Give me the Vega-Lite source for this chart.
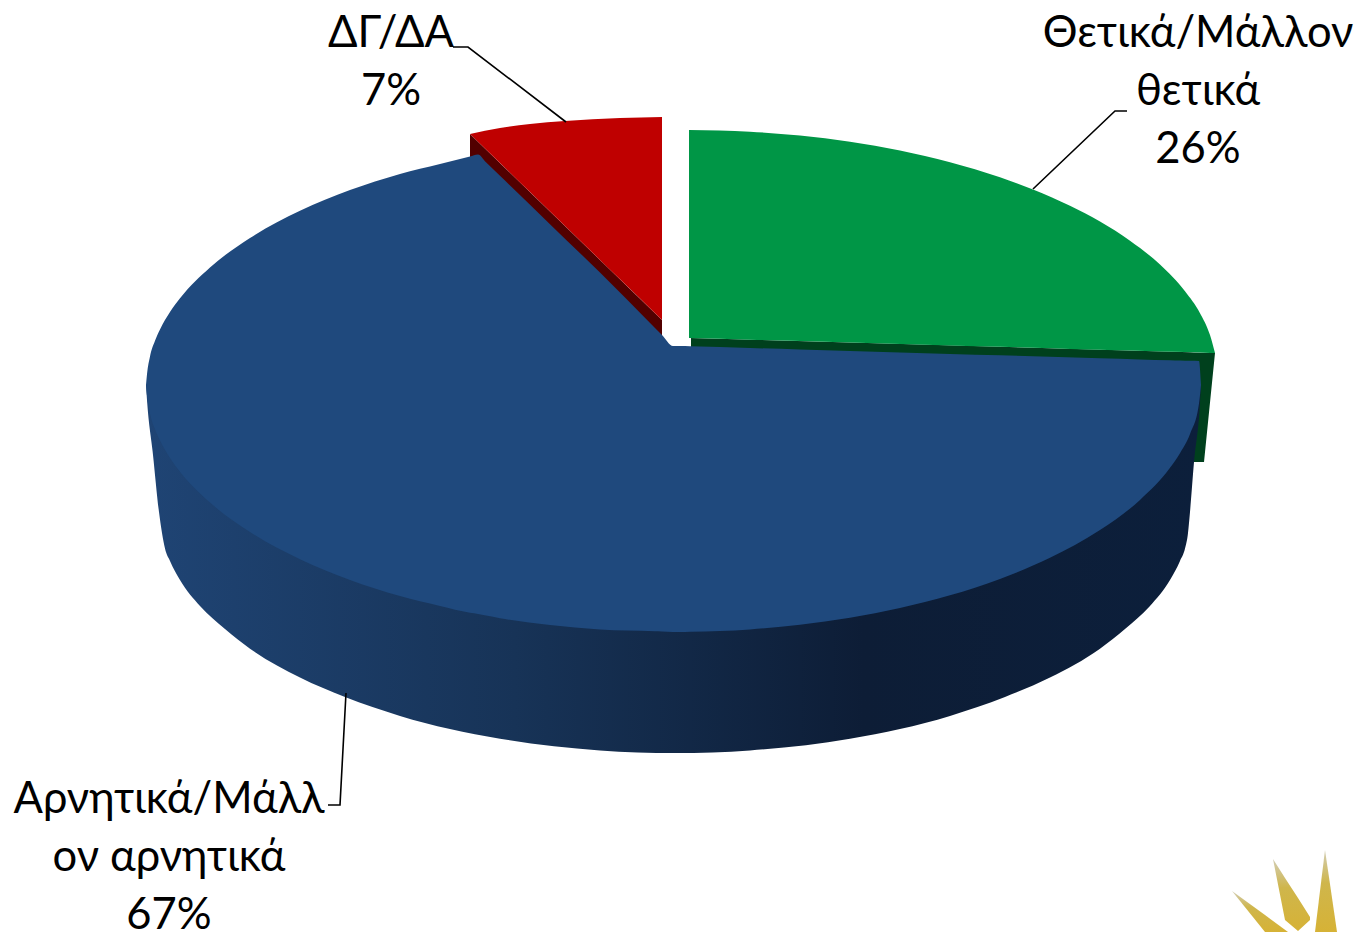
{
"$schema":"https://vega.github.io/schema/vega-lite/v6.json",
"width":1360,"height":932,"padding":0,
"autosize":{"type":"none"},
"background":"white",
"config":{"view":{"stroke":null}},
"datasets":{
"greenSide":[{"x":691,"y":338,"y2":348},{"x":1190,"y":352.3,"y2":400},{"x":1193.9,"y":352.4,"y2":400},{"x":1194,"y":352.4,"y2":462},{"x":1204,"y":352.7,"y2":462},{"x":1215,"y":353,"y2":353}],
"blueSide":[{"x":146,"y":385,"y2":385},{"x":147,"y":385,"y2":400},{"x":153,"y":385,"y2":455},{"x":159,"y":385,"y2":512},{"x":162,"y":385,"y2":533},{"x":165,"y":385,"y2":548.6},{"x":170,"y":385,"y2":561},{"x":180,"y":385,"y2":580},{"x":200,"y":385,"y2":606},{"x":225,"y":385,"y2":629},{"x":250,"y":385,"y2":648.7},{"x":300,"y":385,"y2":677.5},{"x":345,"y":385,"y2":697},{"x":400,"y":385,"y2":715.9},{"x":500,"y":385,"y2":738.7},{"x":600,"y":385,"y2":750.4},{"x":675,"y":385,"y2":753},{"x":750,"y":385,"y2":750.4},{"x":850,"y":385,"y2":738.7},{"x":950,"y":385,"y2":715.9},{"x":1005,"y":385,"y2":697},{"x":1050,"y":385,"y2":677.5},{"x":1100,"y":385,"y2":648.7},{"x":1125,"y":385,"y2":629},{"x":1150,"y":385,"y2":606},{"x":1170,"y":385,"y2":580},{"x":1180,"y":385,"y2":561},{"x":1185,"y":385,"y2":548.6},{"x":1188,"y":385,"y2":533},{"x":1190,"y":385,"y2":512},{"x":1194,"y":385,"y2":462},{"x":1200,"y":385,"y2":403},{"x":1201,"y":385,"y2":385}],
"greenTop":[{"x":689,"y":130,"y2":338},{"x":750,"y":131.7,"y2":339.7},{"x":800,"y":135.6,"y2":341.1},{"x":850,"y":141.8,"y2":342.6},{"x":900,"y":150.6,"y2":344},{"x":950,"y":162.3,"y2":345.4},{"x":1000,"y":177.3,"y2":346.8},{"x":1033,"y":189.5,"y2":347.8},{"x":1070,"y":205.8,"y2":348.9},{"x":1100,"y":221.6,"y2":349.7},{"x":1130,"y":240.7,"y2":350.6},{"x":1160,"y":264.6,"y2":351.4},{"x":1185,"y":291.2,"y2":352.1},{"x":1200,"y":313.2,"y2":352.6},{"x":1210,"y":335,"y2":352.9},{"x":1215,"y":353,"y2":353}],
"redSide":[{"x":470,"y":134,"y2":157},{"x":662,"y":320,"y2":345}],
"redTop":[{"x":470,"y":134,"y2":134},{"x":500,"y":128,"y2":163},{"x":530,"y":124,"y2":192},{"x":565,"y":121,"y2":226},{"x":620,"y":118,"y2":279.3},{"x":662,"y":117,"y2":320}],
"blueTop":[{"x":146,"y":385,"y2":385},{"x":147,"y":374.3,"y2":395.7},{"x":150,"y":356.6,"y2":413.4},{"x":155,"y":340.8,"y2":429.2},{"x":160,"y":329.4,"y2":440.6},{"x":170,"y":312.1,"y2":457.9},{"x":180,"y":298.3,"y2":471.7},{"x":210,"y":267.5,"y2":502.5},{"x":250,"y":238,"y2":532},{"x":300,"y":210.7,"y2":559.3},{"x":350,"y":190,"y2":580},{"x":400,"y":173.9,"y2":596.1},{"x":440,"y":164,"y2":606},{"x":470,"y":156.5,"y2":612.8},{"x":478,"y":154.5,"y2":614},{"x":486,"y":162.3,"y2":615.5},{"x":500,"y":175.8,"y2":618.2},{"x":550,"y":224.2,"y2":625.1},{"x":600,"y":272.6,"y2":629.6},{"x":655,"y":328,"y2":631.3},{"x":662,"y":335,"y2":631.5},{"x":673,"y":346,"y2":632},{"x":680,"y":346.1,"y2":632},{"x":690,"y":346.3,"y2":631.8},{"x":750,"y":348,"y2":629.4},{"x":800,"y":349.5,"y2":624.8},{"x":850,"y":351,"y2":617.7},{"x":900,"y":352.4,"y2":608},{"x":950,"y":353.9,"y2":595.3},{"x":1000,"y":355.3,"y2":578.9},{"x":1050,"y":356.8,"y2":557.8},{"x":1100,"y":358.2,"y2":530.1},{"x":1140,"y":359.4,"y2":499.9},{"x":1170,"y":360.2,"y2":467.8},{"x":1180,"y":360.5,"y2":453.2},{"x":1190,"y":360.8,"y2":434},{"x":1199,"y":361,"y2":403.6},{"x":1201,"y":385,"y2":385}],
"spikes":[
{"spike":"a","x":1315,"y":932,"y2":932},{"spike":"a","x":1325,"y":850,"y2":932},{"spike":"a","x":1337,"y":932,"y2":932},
{"spike":"b","x":1273,"y":859,"y2":859},{"spike":"b","x":1285,"y":878,"y2":920},{"spike":"b","x":1298,"y":898,"y2":931},{"spike":"b","x":1310,"y":917,"y2":920},
{"spike":"c","x":1232,"y":891,"y2":891},{"spike":"c","x":1265,"y":915,"y2":932},{"spike":"c","x":1288,"y":932,"y2":932}],
"leaders":[
{"slice":"ΔΓ/ΔΑ","i":1,"x":453,"y":47},{"slice":"ΔΓ/ΔΑ","i":2,"x":468,"y":47},{"slice":"ΔΓ/ΔΑ","i":3,"x":566,"y":122},
{"slice":"Θετικά/Μάλλον θετικά","i":1,"x":1127,"y":111},{"slice":"Θετικά/Μάλλον θετικά","i":2,"x":1115,"y":111},{"slice":"Θετικά/Μάλλον θετικά","i":3,"x":1033,"y":189},
{"slice":"Αρνητικά/Μάλλον αρνητικά","i":1,"x":328,"y":805},{"slice":"Αρνητικά/Μάλλον αρνητικά","i":2,"x":340,"y":805},{"slice":"Αρνητικά/Μάλλον αρνητικά","i":3,"x":346,"y":693}],
"labels":[
{"text":"ΔΓ/ΔΑ","x":391,"y":34},{"text":"7%","x":391,"y":92},
{"text":"Θετικά/Μάλλον","x":1198,"y":34},{"text":"θετικά","x":1198,"y":92},{"text":"26%","x":1198,"y":150},
{"text":"Αρνητικά/Μάλλ","x":169,"y":800},{"text":"ον αρνητικά","x":169,"y":858},{"text":"67%","x":169,"y":916}]
},
"encoding":{
"x":{"field":"x","type":"quantitative","axis":null,"scale":{"domain":[0,1360],"nice":false,"zero":false}},
"y":{"field":"y","type":"quantitative","axis":null,"scale":{"domain":[932,0],"nice":false,"zero":false}}
},
"layer":[
{"data":{"name":"greenSide"},"mark":{"type":"area","orient":"vertical","fill":"#00401D"},"encoding":{"y2":{"field":"y2"}}},
{"data":{"name":"blueSide"},"mark":{"type":"area","orient":"vertical","interpolate":"monotone","fill":{"gradient":"linear","x1":0,"y1":0,"x2":1,"y2":0,"stops":[{"offset":0,"color":"#1F4474"},{"offset":0.35,"color":"#173357"},{"offset":0.68,"color":"#0D1D36"},{"offset":1,"color":"#0C1F3B"}]}},"encoding":{"y2":{"field":"y2"}}},
{"data":{"name":"greenTop"},"mark":{"type":"area","orient":"vertical","interpolate":"monotone","fill":"#009646"},"encoding":{"y2":{"field":"y2"}}},
{"data":{"name":"redSide"},"mark":{"type":"area","orient":"vertical","fill":"#520000"},"encoding":{"y2":{"field":"y2"}}},
{"data":{"name":"redTop"},"mark":{"type":"area","orient":"vertical","interpolate":"monotone","fill":"#BF0000"},"encoding":{"y2":{"field":"y2"}}},
{"data":{"name":"blueTop"},"mark":{"type":"area","orient":"vertical","interpolate":"monotone","fill":"#1F497D"},"encoding":{"y2":{"field":"y2"}}},
{"data":{"name":"spikes"},"mark":{"type":"area","orient":"vertical","fill":{"gradient":"linear","x1":0,"y1":0,"x2":0,"y2":1,"stops":[{"offset":0,"color":"#D2CDB4"},{"offset":0.4,"color":"#CFB64C"},{"offset":1,"color":"#D6B236"}]}},"encoding":{"y2":{"field":"y2"},"detail":{"field":"spike"}}},
{"data":{"name":"leaders"},"mark":{"type":"line","stroke":"#000000","strokeWidth":1.6},"encoding":{"detail":{"field":"slice"},"order":{"field":"i"}}},
{"data":{"name":"labels"},"mark":{"type":"text","font":"Lato","fontSize":43.5,"color":"#000000","align":"center","baseline":"middle"},"encoding":{"text":{"field":"text"}}}
]
}
